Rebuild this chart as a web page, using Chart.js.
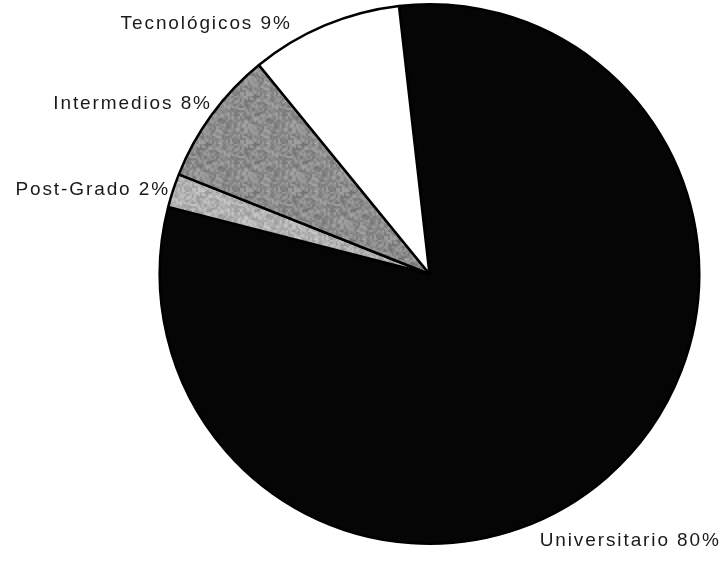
<!DOCTYPE html>
<html>
<head>
<meta charset="utf-8">
<script src="https://cdn.jsdelivr.net/npm/chart.js@4/dist/chart.umd.min.js"></script>
<style>
  html, body { margin: 0; padding: 0; background: #fff; }
  #wrap { width: 723px; height: 564px; position: relative; }
</style>
</head>
<body>
<div id="wrap"><canvas id="pie"></canvas></div>
<script>
/* education level pie, clockwise from the top */
const categories = ["Universitario", "Post-Grado", "Intermedios", "Tecnológicos"];
const shares = [80, 2, 8, 9];
const baseGrays = [5, 178, 140, 255];

// label offset from the outer midpoint of each slice: [dx, dy, align]
const labelOffsets = [
  [-67, 63, "left"],
  [-3, -1, "right"],
  [0, -11, "right"],
  [-33, -2, "right"],
];

// speckled fill like the printed halftone (fixed seed, style only)
function speckle(gray, spread) {
  const c = document.createElement("canvas");
  c.width = c.height = 48;
  const g = c.getContext("2d");
  const img = g.createImageData(24, 24);
  let s = 12345;
  for (let i = 0; i < img.data.length; i += 4) {
    s = (s * 1103515245 + 12345) & 0x7fffffff;
    const v = Math.max(0, Math.min(255, gray + ((s >> 8) % (2 * spread + 1)) - spread));
    img.data[i] = img.data[i + 1] = img.data[i + 2] = v;
    img.data[i + 3] = 255;
  }
  // upscale 2x so the grain reads coarser, like the scan
  const t = document.createElement("canvas");
  t.width = t.height = 24;
  t.getContext("2d").putImageData(img, 0, 0);
  g.imageSmoothingEnabled = true;
  g.drawImage(t, 0, 0, 48, 48);
  return g.createPattern(c, "repeat");
}

const fills = baseGrays.map((v, i) => (i === 1 || i === 2 ? speckle(v, 30) : `rgb(${v},${v},${v})`));

const sliceLabels = {
  id: "sliceLabels",
  afterDatasetsDraw(chart) {
    const ctx = chart.ctx;
    const arcs = chart.getDatasetMeta(0).data;
    ctx.save();
    ctx.font = "19px 'Liberation Sans', Arial, sans-serif";
    ctx.fillStyle = "#1a1a1a";
    ctx.textBaseline = "middle";
    ctx.letterSpacing = "1.9px";
    arcs.forEach((a, i) => {
      const mid = (a.startAngle + a.endAngle) / 2;
      const x = a.x + Math.cos(mid) * a.outerRadius;
      const y = a.y + Math.sin(mid) * a.outerRadius;
      const [dx, dy, align] = labelOffsets[i];
      ctx.textAlign = align;
      ctx.fillText(`${categories[i]} ${shares[i]}%`, x + dx, y + dy);
    });
    ctx.restore();
  },
};

new Chart(document.getElementById("pie"), {
  type: "pie",
  data: {
    labels: categories,
    datasets: [{ data: shares, backgroundColor: fills, borderColor: "#000", borderWidth: 2.5 }],
  },
  options: {
    responsive: true,
    maintainAspectRatio: false,
    animation: false,
    rotation: -6.5,
    layout: { padding: { left: 158, right: 22, top: 3, bottom: 19 } },
    plugins: { legend: { display: false }, tooltip: { enabled: false } },
  },
  plugins: [sliceLabels],
});
</script>
</body>
</html>
